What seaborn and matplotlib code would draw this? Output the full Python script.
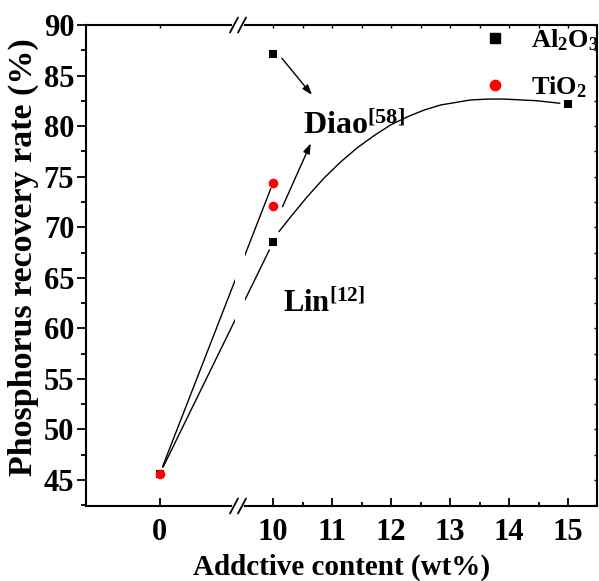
import numpy as np
import pandas as pd
import matplotlib
matplotlib.use("Agg")
import matplotlib.pyplot as plt
import seaborn as sns
from matplotlib.patches import Rectangle
from matplotlib.lines import Line2D

# ---------------- data ----------------
al2o3_x = [0, 10, 10, 15]
al2o3_y = [45.6, 68.5, 87.1, 82.2]
tio2_x = [0, 10, 10]
tio2_y = [45.6, 74.4, 72.1]

fit_x = [10.10, 10.30, 10.58, 10.86, 11.15, 11.43, 11.71, 11.99, 12.28, 12.56,
         12.84, 13.34, 13.62, 13.90, 14.47, 14.86]
fit_y = [69.56, 71.04, 73.02, 74.84, 76.48, 77.87, 79.05, 80.11, 80.93, 81.59,
         82.09, 82.58, 82.67, 82.68, 82.51, 82.26]

x_ticks = [0, 10, 11, 12, 13, 14, 15]
x_tick_labels = ["0", "10", "11", "12", "13", "14", "15"]
y_ticks = [45, 50, 55, 60, 65, 70, 75, 80, 85, 90]

series_labels = ["Al$_2$O$_3$", "TiO$_2$"]

# ---------------- style ----------------
sns.set_style("ticks")
plt.rcParams["font.family"] = ["Liberation Serif", "DejaVu Serif"]
plt.rcParams["font.weight"] = "bold"
plt.rcParams["axes.labelweight"] = "bold"
plt.rcParams["mathtext.default"] = "regular"
for k in ("text.color", "axes.labelcolor", "xtick.color", "ytick.color",
          "axes.edgecolor"):
    plt.rcParams[k] = "black"

# broken-axis scale: collapse the interval (BA, BB)
BA, BB = 1.34, 9.42


def fwd(x):
    x = np.asarray(x, dtype=float)
    return np.where(x <= BA, x, np.where(x >= BB, x - (BB - BA), BA))


def inv(t):
    t = np.asarray(t, dtype=float)
    return np.where(t <= BA, t, t + (BB - BA))


fig = plt.figure(figsize=(5.99, 5.81), dpi=100)
ax = fig.add_axes([86 / 599, 75 / 581, 511 / 599, 481 / 581])
ax.set_xscale("function", functions=(fwd, inv))
XLIM = (-1.25, 15.49)
YLIM = (42.43, 90)

df_al = pd.DataFrame({"x": al2o3_x, "y": al2o3_y})
df_ti = pd.DataFrame({"x": tio2_x, "y": tio2_y})

sns.scatterplot(data=df_al, x="x", y="y", marker="s", color="black", s=30,
                linewidth=0, ax=ax, zorder=5, legend=False)
sns.scatterplot(data=df_ti, x="x", y="y", marker="o", color="red", s=48,
                linewidth=0, ax=ax, zorder=6, legend=False)
sns.lineplot(x=fit_x, y=fit_y, color="black", lw=1.0, sort=False,
             estimator=None, ax=ax, zorder=3)

# connecting lines (Lin) from the 0 wt% point
ax.annotate("", xy=(tio2_x[1], tio2_y[1]), xytext=(tio2_x[0], tio2_y[0]),
            arrowprops=dict(arrowstyle="-", color="black", lw=1.0,
                            shrinkA=5.5, shrinkB=4.5), zorder=1.5)
ax.annotate("", xy=(al2o3_x[1], al2o3_y[1]), xytext=(al2o3_x[0], al2o3_y[0]),
            arrowprops=dict(arrowstyle="-", color="black", lw=1.0,
                            shrinkA=5.5, shrinkB=6), zorder=1.5)

# Diao arrows
arr = dict(arrowstyle="-|>,head_length=0.5,head_width=0.17", color="black",
           lw=1.0, mutation_scale=12)
ax.annotate("", xy=(10.66, 83.08), xytext=(10.15, 86.71),
            arrowprops=dict(arr, shrinkA=0, shrinkB=0), zorder=3)
ax.annotate("", xy=(10.64, 78.30), xytext=(10.16, 72.03),
            arrowprops=dict(arr, shrinkA=0, shrinkB=0), zorder=3)

ax.text(10.51, 79.19, "Diao$^{[58]}$", fontsize=23, fontweight="bold",
        ha="left", va="baseline")
ax.text(10.175, 61.64, "Lin$^{[12]}$", fontsize=22, fontweight="bold",
        ha="left", va="baseline")

ax.set_xlim(*XLIM)
ax.set_ylim(*YLIM)
ax.set_xticks(x_ticks)
ax.set_xticklabels(x_tick_labels)
ax.set_xticks([10.5, 11.5, 12.5, 13.5, 14.5], minor=True)
ax.set_yticks(y_ticks)
ax.set_yticks(np.arange(42.5, 90.1, 2.5), minor=True)

ax.tick_params(axis="x", which="major", direction="in", length=6, width=1.3,
               labelsize=22, pad=9, top=False)
ax.tick_params(axis="x", which="minor", direction="in", length=3, width=1.3,
               top=False)
ax.tick_params(axis="y", which="major", direction="out", length=6.5, width=1.3,
               labelsize=22, pad=2, right=False)
ax.tick_params(axis="y", which="minor", direction="out", length=3.5, width=1.3,
               right=False)
for lab in ax.get_xticklabels() + ax.get_yticklabels():
    lab.set_fontweight("bold")

for s in ax.spines.values():
    s.set_linewidth(1.5)

ax.set_xlabel("Addctive content (wt%)", fontsize=21, fontweight="bold")
ax.set_ylabel("Phosphorus recovery rate (%)", fontsize=24.5, fontweight="bold")
ax.xaxis.set_label_coords(0.5, -0.1)
ax.yaxis.set_label_coords(-0.092, 0.518)

# top / right inward short ticks via twin axes
axt = ax.twiny()
axt.set_xscale("function", functions=(fwd, inv))
axt.set_xlim(*XLIM)
axt.set_xticks(x_ticks)
axt.set_xticks([10.5, 11.5, 12.5, 13.5, 14.5], minor=True)
axt.tick_params(axis="x", which="both", direction="in", length=2.5, width=1.0,
                labeltop=False, top=True, bottom=False, labelbottom=False)
axr = ax.twinx()
axr.set_ylim(*YLIM)
axr.set_yticks(y_ticks)
axr.set_yticks(np.arange(42.5, 90.1, 2.5), minor=True)
axr.tick_params(axis="y", which="both", direction="in", length=2.5, width=1.0,
                labelright=False, right=True, left=False)
for a in (axt, axr):
    for s in a.spines.values():
        s.set_visible(False)

# white band where lines cross the axis break
ax.add_patch(Rectangle((0.2916, 0.0), 0.0196, 1.0, transform=ax.transAxes,
                       facecolor="white", edgecolor="none", zorder=2.2))

# break marks
c1, c2 = 0.2896, 0.3053
dx, dy = 0.0078, 0.0156
for yb in (0.0, 1.0):
    ax.add_line(Line2D([c1, c2], [yb, yb], transform=ax.transAxes, color="white",
                       lw=3, clip_on=False, zorder=10))
    for c in (c1, c2):
        ax.add_line(Line2D([c - dx, c + dx], [yb - dy, yb + dy],
                           transform=ax.transAxes, color="black", lw=1.3,
                           clip_on=False, zorder=11))

# legend
handles = [Line2D([], [], marker="s", color="black", ls="none", markersize=6.6),
           Line2D([], [], marker="o", color="red", ls="none", markersize=7.4)]
leg = ax.legend(handles, series_labels, loc="upper left",
                bbox_to_anchor=(0.775, 0.995), frameon=False, fontsize=19,
                handlelength=1.0, handletextpad=0.85, labelspacing=0.8,
                borderpad=0, borderaxespad=0)
for t in leg.get_texts():
    t.set_fontweight("bold")

fig.savefig("out.png", dpi=100)
